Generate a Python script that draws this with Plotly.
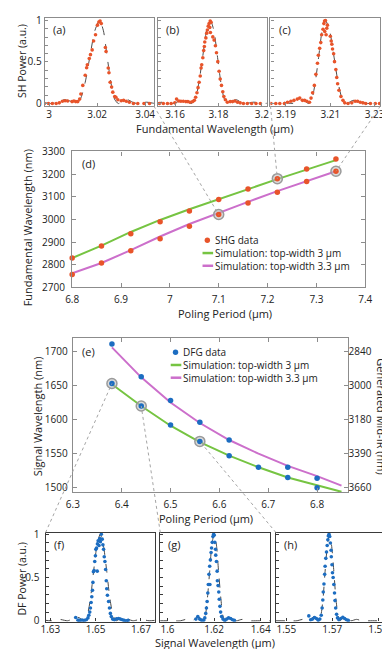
import plotly.graph_objects as go

W, H = 390, 649
FONT = "Open Sans"

shg_color = "#E8542A"
dfg_color = "#1C6DC1"
green = "#76C442"
magenta = "#CC6FCB"

# (a)-(c) SHG spectra: fundamental wavelength (um) vs SH power (a.u.)
a_wl = [2.9980, 2.9997, 3.0013, 3.0029, 3.0042, 3.0055, 3.0066, 3.0077, 3.0095, 3.0103, 3.0111, 3.0119,
        3.0127, 3.0132, 3.0140, 3.0150, 3.0156, 3.0159, 3.0167, 3.0172, 3.0179, 3.0185, 3.0193, 3.0201,
        3.0207, 3.0212, 3.0217, 3.0234, 3.0237, 3.0246, 3.0249, 3.0254, 3.0260, 3.0265, 3.0273, 3.0278,
        3.0286, 3.0300, 3.0310, 3.0321, 3.0334, 3.0351, 3.0369, 3.0395, 3.0418]
a_pw = [0, 0, 0, 0, 0.008, 0.027, 0.034, 0.031, 0.023, 0.031, 0.023, 0.023,
        0.053, 0.115, 0.218, 0.34, 0.43, 0.466, 0.542, 0.588, 0.645, 0.752, 0.828, 0.943,
        0.981, 0.992, 0.962, 0.675, 0.626, 0.427, 0.37, 0.256, 0.198, 0.137, 0.084, 0.076,
        0.046, 0.034, 0.038, 0.027, 0.015, 0, 0, 0, 0]
a_sim_wl = [2.991, 2.996, 3.001, 3.0035, 3.006, 3.0085, 3.011, 3.013, 3.015, 3.017, 3.019, 3.021,
            3.0226, 3.0241, 3.0257, 3.0272, 3.0288, 3.0308, 3.0327, 3.0347, 3.0366, 3.0405, 3.0444, 3.048]
a_sim_pw = [0, 0.016, 0, 0.017, 0.045, 0.032, 0, 0.055, 0.255, 0.573, 0.875, 1,
            0.875, 0.573, 0.255, 0.055, 0, 0.032, 0.045, 0.017, 0, 0.016, 0, 0.008]

b_wl = [3.1528, 3.1546, 3.1565, 3.1582, 3.1599, 3.1607, 3.1617, 3.1627, 3.1638, 3.1650, 3.1659, 3.1669,
        3.1681, 3.1689, 3.1695, 3.1701, 3.1706, 3.1711, 3.1716, 3.1720, 3.1723, 3.1728, 3.1732, 3.1735,
        3.1737, 3.1742, 3.1746, 3.1749, 3.1753, 3.1757, 3.1762, 3.1766, 3.1760, 3.1763, 3.1774, 3.1780,
        3.1786, 3.1791, 3.1797, 3.1803, 3.1808, 3.1814, 3.1820, 3.1825, 3.1832, 3.1841, 3.1854, 3.1865,
        3.1876, 3.1888, 3.1900, 3.1915, 3.1933, 3.1953, 3.1973, 3.1993]
b_pw = [0, 0, 0, 0, 0.008, 0.053, 0.031, 0.027, 0.027, 0.023, 0.023, 0.015,
        0.023, 0.038, 0.076, 0.130, 0.191, 0.256, 0.332, 0.427, 0.466, 0.550, 0.637, 0.687,
        0.740, 0.790, 0.847, 0.885, 0.931, 0.962, 0.992, 0.977, 0.916, 0.855, 0.802, 0.763,
        0.695, 0.611, 0.504, 0.389, 0.294, 0.218, 0.141, 0.084, 0.046, 0.015, 0.023, 0.023,
        0.031, 0.015, 0.008, 0, 0, 0, 0, 0]
b_sim_wl = [3.1499, 3.1543, 3.1587, 3.1609, 3.1631, 3.1653, 3.1675, 3.1693, 3.1710, 3.1728, 3.1745, 3.1763,
            3.1779, 3.1795, 3.1811, 3.1827, 3.1843, 3.1863, 3.1883, 3.1903, 3.1923, 3.1963, 3.2003, 3.2043]
b_sim_pw = [0, 0.016, 0, 0.017, 0.045, 0.032, 0, 0.055, 0.255, 0.573, 0.875, 1,
            0.875, 0.573, 0.255, 0.055, 0, 0.032, 0.045, 0.017, 0, 0.016, 0, 0.008]

c_wl = [3.1832, 3.1854, 3.1872, 3.1893, 3.1907, 3.1922, 3.1936, 3.1951, 3.1962, 3.1974, 3.1984, 3.1994,
        3.2006, 3.2013, 3.2020, 3.2028, 3.2035, 3.2042, 3.2046, 3.2052, 3.2057, 3.2061, 3.2067, 3.2071,
        3.2074, 3.2078, 3.2075, 3.2081, 3.2084, 3.2087, 3.2100, 3.2104, 3.2107, 3.2110, 3.2115, 3.2119,
        3.2125, 3.2129, 3.2133, 3.2139, 3.2148, 3.2157, 3.2165, 3.2180, 3.2197, 3.2212, 3.2223, 3.2235,
        3.2247, 3.2260, 3.2281, 3.2303, 3.2322]
c_pw = [0, 0, 0, 0, 0.015, 0.027, 0.038, 0.053, 0.065, 0.038, 0.038, 0.027,
        0.015, 0.065, 0.130, 0.218, 0.351, 0.485, 0.580, 0.664, 0.733, 0.828, 0.893, 0.962,
        0.992, 1.0, 0.866, 0.828, 0.905, 0.943, 0.809, 0.752, 0.714, 0.656, 0.599, 0.504,
        0.408, 0.313, 0.237, 0.160, 0.084, 0.038, 0.008, 0, 0.008, 0.027, 0.027, 0.015,
        0.008, 0, 0, 0, 0]
c_sim_wl = [3.1812, 3.185, 3.1888, 3.1926, 3.1945, 3.1964, 3.1983, 3.2002, 3.2017, 3.2032, 3.2048, 3.2063,
            3.2078, 3.2097, 3.2116, 3.2135, 3.2154, 3.2173, 3.2197, 3.2221, 3.2244, 3.2268, 3.2316, 3.2363]
c_sim_pw = [0.008, 0, 0.016, 0, 0.017, 0.045, 0.032, 0, 0.055, 0.255, 0.573, 0.875,
            1, 0.875, 0.573, 0.255, 0.055, 0, 0.032, 0.045, 0.017, 0, 0.016, 0]

# (d) SHG phase matching vs poling period
shg_period = [6.8, 6.86, 6.92, 6.98, 7.04, 7.1, 7.16, 7.22, 7.28, 7.34]
shg_w3 = [2830, 2883, 2937, 2990, 3038, 3088, 3135, 3180, 3223, 3267]
shg_w33 = [2757, 2808, 2862, 2915, 2970, 3022, 3073, 3120, 3168, 3213]
sim_shg_w3 = [2830, 2885, 2945, 2998, 3045, 3090, 3135, 3178, 3220, 3262]
sim_shg_w33 = [2763, 2808, 2865, 2925, 2980, 3030, 3078, 3125, 3170, 3213]
shg_pick_period = [7.1, 7.22, 7.34]
shg_pick_wl = [3022, 3180, 3213]

# (e) DFG phase matching vs poling period
dfg_period_w33 = [6.38, 6.44, 6.5, 6.56, 6.62, 6.74, 6.8]
dfg_w33 = [1711, 1663, 1628, 1596, 1570, 1530, 1514]
dfg_period_w3 = [6.38, 6.44, 6.5, 6.56, 6.62, 6.68, 6.74, 6.8]
dfg_w3 = [1653, 1620, 1592, 1568, 1547, 1530, 1515, 1500]
sim_dfg_period = [6.38, 6.44, 6.5, 6.56, 6.62, 6.68, 6.74, 6.8, 6.85]
sim_dfg_w3 = [1652, 1620, 1591, 1567, 1547, 1530, 1515, 1503, 1494]
sim_dfg_w33 = [1706, 1662, 1625, 1595, 1570, 1550, 1532, 1517, 1503]
dfg_pick_period = [6.38, 6.44, 6.56]
dfg_pick_wl = [1653, 1620, 1568]
signal_ticks = [1700, 1650, 1600, 1550, 1500]
midir_labels = ["2840", "3000", "3180", "3390", "3660"]

# (f)-(h) DFG spectra: signal wavelength (um) vs DF power (a.u.)
f_wl = [1.6412, 1.6422, 1.6430, 1.6440, 1.6450, 1.6459, 1.6466, 1.6470, 1.6474, 1.6477, 1.6480, 1.6483,
        1.6486, 1.6488, 1.6490, 1.6493, 1.6496, 1.6499, 1.6501, 1.6504, 1.6507, 1.6508, 1.6511, 1.6515,
        1.6518, 1.6521, 1.6525, 1.6529, 1.6532, 1.6535, 1.6538, 1.6541, 1.6544, 1.6547, 1.6549, 1.6552,
        1.6557, 1.6561, 1.6565, 1.6569, 1.6575, 1.6583, 1.6592, 1.6601, 1.6609, 1.6618, 1.6626, 1.6635, 1.6643]
f_pw = [0.037, 0.007, 0.004, 0.007, 0.004, 0.011, 0.033, 0.063, 0.1, 0.148, 0.211, 0.278,
        0.352, 0.444, 0.567, 0.581, 0.685, 0.752, 0.826, 0.841, 0.574, 0.889, 0.926, 0.870,
        0.952, 0.915, 1.0, 0.944, 0.878, 0.826, 0.741, 0.685, 0.593, 0.463, 0.370, 0.296,
        0.222, 0.148, 0.085, 0.048, 0.019, 0.011, 0.022, 0.026, 0.019, 0.011, 0.004, 0, 0.004]
f_sim_wl = [1.6268, 1.6304, 1.634, 1.6376, 1.6394, 1.6412, 1.643, 1.6448, 1.6462, 1.6477, 1.6491, 1.6506, 1.652,
            1.6534, 1.6549, 1.6563, 1.6578, 1.6592, 1.661, 1.6628, 1.6646, 1.6664, 1.67, 1.6736, 1.6772]
f_sim_pw = [0.008, 0, 0.016, 0, 0.017, 0.045, 0.032, 0, 0.055, 0.255, 0.573, 0.875, 1,
            0.875, 0.573, 0.255, 0.055, 0, 0.032, 0.045, 0.017, 0, 0.016, 0, 0.008]

g_wl = [1.6122, 1.6130, 1.6138, 1.6146, 1.6155, 1.6160, 1.6164, 1.6167, 1.6170, 1.6173, 1.6175, 1.6178,
        1.6181, 1.6182, 1.6184, 1.6187, 1.6189, 1.6192, 1.6195, 1.6198, 1.6200, 1.6203, 1.6206, 1.6207,
        1.6210, 1.6213, 1.6214, 1.6217, 1.6220, 1.6222, 1.6225, 1.6228, 1.6232, 1.6238, 1.6246, 1.6254,
        1.6262, 1.6271, 1.6279, 1.6287]
g_pw = [0.019, 0.048, 0.019, 0.007, 0.007, 0.033, 0.085, 0.148, 0.222, 0.322, 0.419, 0.537,
        0.630, 0.419, 0.704, 0.789, 0.841, 0.907, 0.974, 1.0, 0.989, 0.907, 0.826, 0.759,
        0.685, 0.574, 0.463, 0.407, 0.333, 0.248, 0.167, 0.1, 0.048, 0.019, 0.004, 0.019,
        0.033, 0.026, 0.011, 0.004]
g_sim_wl = [1.596, 1.6008, 1.6056, 1.608, 1.6104, 1.6116, 1.6128, 1.614, 1.6152, 1.6162, 1.6171, 1.6181, 1.619, 1.62,
            1.621, 1.6219, 1.6229, 1.6238, 1.6248, 1.626, 1.6272, 1.6284, 1.6296, 1.632, 1.6344, 1.6392, 1.644]
g_sim_pw = [0, 0, 0, 0.016, 0, 0.017, 0.045, 0.032, 0, 0.055, 0.255, 0.573, 0.875, 1,
            0.875, 0.573, 0.255, 0.055, 0, 0.032, 0.045, 0.017, 0, 0.016, 0, 0, 0]

h_wl = [1.5598, 1.5606, 1.5614, 1.5623, 1.5631, 1.5639, 1.5646, 1.5652, 1.5656, 1.5659, 1.5661, 1.5664,
        1.5667, 1.5669, 1.5672, 1.5675, 1.5678, 1.5681, 1.5683, 1.5686, 1.5689, 1.5692, 1.5695, 1.5696,
        1.5699, 1.5701, 1.5704, 1.5707, 1.5710, 1.5712, 1.5715, 1.5719, 1.5723, 1.5729, 1.5737, 1.5746,
        1.5754, 1.5762, 1.5770]
h_pw = [0.056, 0.011, 0.019, 0.037, 0.026, 0.007, 0.019, 0.063, 0.148, 0.241, 0.333, 0.426,
        0.537, 0.630, 0.722, 0.796, 0.870, 0.937, 0.981, 1.0, 0.974, 0.9, 0.815, 0.741,
        0.648, 0.556, 0.5, 0.419, 0.322, 0.233, 0.148, 0.074, 0.033, 0.011, 0.026, 0.041,
        0.026, 0.011, 0.004]
h_sim_wl = [1.5453, 1.55, 1.5547, 1.5571, 1.5594, 1.5606, 1.5618, 1.5629, 1.5641, 1.565, 1.566, 1.5669, 1.5679, 1.5688,
            1.5697, 1.5707, 1.5716, 1.5726, 1.5735, 1.5747, 1.5759, 1.577, 1.5782, 1.5806, 1.5829, 1.5876, 1.5923]
h_sim_pw = [0, 0, 0, 0.016, 0, 0.017, 0.045, 0.032, 0, 0.055, 0.255, 0.573, 0.875, 1,
            0.875, 0.573, 0.255, 0.055, 0, 0.032, 0.045, 0.017, 0, 0.016, 0, 0, 0]

power_ticks = [0, 0.1, 0.2, 0.3, 0.4, 0.5, 0.6, 0.7, 0.8, 0.9, 1]
power_labels = ["0", "", "", "", "", "0.5", "", "", "", "", "1"]


def xdom(l, r):
    return [l / W, r / W]


def ydom(t, b):
    return [1 - b / H, 1 - t / H]


# panel geometry in pixels (left, right), (top, bottom)
P = {
    "a": dict(s="", xpx=(31, 144), ypx=(3, 93), xr=(2.9982, 3.0436), yr=(-0.03, 1.03)),
    "b": dict(s="2", xpx=(148, 261), ypx=(3, 93), xr=(3.1520, 3.2022), yr=(-0.03, 1.03)),
    "c": dict(s="3", xpx=(265, 379), ypx=(3, 93), xr=(3.1830, 3.2326), yr=(-0.03, 1.03)),
    "d": dict(s="4", xpx=(59.3, 363.3), ypx=(139.5, 278.5), xr=(6.8, 7.4), yr=(2700, 3300)),
    "e": dict(s="5", xpx=(60, 345), ypx=(330, 488), xr=(6.3, 6.8625), yr=(1493, 1720)),
    "f": dict(s="7", xpx=(31.7, 145.7), ypx=(529, 620), xr=(1.6279, 1.6764), yr=(-0.01, 1.02)),
    "g": dict(s="8", xpx=(150.7, 264.3), ypx=(529, 620), xr=(1.5969, 1.6439), yr=(-0.01, 1.02)),
    "h": dict(s="9", xpx=(270.7, 385), ypx=(529, 620), xr=(1.5455, 1.5935), yr=(-0.01, 1.02)),
}


def to_paper(key, xv, yv):
    p = P[key]
    (x0, x1), (y0, y1) = p["xr"], p["yr"]
    (l, r), (t, b) = p["xpx"], p["ypx"]
    px = l + (xv - x0) / (x1 - x0) * (r - l)
    py = b - (yv - y0) / (y1 - y0) * (b - t)
    return px / W, 1 - py / H


fig = go.Figure()
layout = {}
tickfont = dict(family=FONT, size=10, color="#222")

spectra = [
    ("a", a_wl, a_pw, a_sim_wl, a_sim_pw, shg_color, [3, 3.02, 3.04]),
    ("b", b_wl, b_pw, b_sim_wl, b_sim_pw, shg_color, [3.16, 3.18, 3.2]),
    ("c", c_wl, c_pw, c_sim_wl, c_sim_pw, shg_color, [3.19, 3.21, 3.23]),
    ("f", f_wl, f_pw, f_sim_wl, f_sim_pw, dfg_color, [1.63, 1.65, 1.67]),
    ("g", g_wl, g_pw, g_sim_wl, g_sim_pw, dfg_color, [1.6, 1.62, 1.64]),
    ("h", h_wl, h_pw, h_sim_wl, h_sim_pw, dfg_color, [1.55, 1.57, 1.59]),
]
for key, xs, ys, sx, sy, col, xt in spectra:
    p = P[key]
    s = p["s"]
    top = key in "abc"
    frame = "#8c8c8c" if top else "#3a3a3a"
    fig.add_trace(go.Scatter(x=sx, y=sy, mode="lines", xaxis="x" + s, yaxis="y" + s,
                             line=dict(color="#4a4a4a", width=1, dash="dash", shape="spline", smoothing=0.7),
                             showlegend=False, hoverinfo="skip"))
    fig.add_trace(go.Scatter(x=xs, y=ys, mode="markers", xaxis="x" + s, yaxis="y" + s,
                             marker=dict(color=col, size=3.6), showlegend=False))
    layout["xaxis" + s] = dict(domain=xdom(*p["xpx"]), range=list(p["xr"]), anchor="y" + s,
                               tickvals=xt, ticks="inside", ticklen=3, tickcolor=frame,
                               ticklabelstandoff=-1 if top else -2,
                               showline=True, mirror=True, linecolor=frame, linewidth=1.4,
                               showgrid=False, zeroline=False, tickfont=tickfont)
    layout["yaxis" + s] = dict(domain=ydom(*p["ypx"]), range=list(p["yr"]), anchor="x" + s,
                               tickvals=power_ticks, ticktext=power_labels, ticks="inside", ticklen=3,
                               tickcolor=frame, showticklabels=key in "af",
                               ticklabelstandoff=0 if top else 3,
                               showline=True, mirror=True, linecolor=frame, linewidth=1.4,
                               showgrid=False, zeroline=False, tickfont=tickfont)

# (d)
ring = dict(color="rgba(190,190,190,0.55)", size=10, line=dict(color="#9a9a9a", width=1.5))
fig.add_trace(go.Scatter(x=shg_period, y=sim_shg_w3, mode="lines", line=dict(color=green, width=2),
                         xaxis="x4", yaxis="y4", showlegend=False))
fig.add_trace(go.Scatter(x=shg_period, y=sim_shg_w33, mode="lines", line=dict(color=magenta, width=2),
                         xaxis="x4", yaxis="y4", showlegend=False))
fig.add_trace(go.Scatter(x=shg_pick_period, y=shg_pick_wl, mode="markers", marker=ring,
                         xaxis="x4", yaxis="y4", showlegend=False, cliponaxis=False))
for ys in (shg_w3, shg_w33):
    fig.add_trace(go.Scatter(x=shg_period, y=ys, mode="markers", marker=dict(color=shg_color, size=5.5),
                             xaxis="x4", yaxis="y4", showlegend=False, cliponaxis=False))
frame_mid = "#8c8c8c"
layout["xaxis4"] = dict(domain=xdom(*P["d"]["xpx"]), range=list(P["d"]["xr"]), anchor="y4", dtick=0.1,
                        ticks="inside", ticklen=4, tickcolor=frame_mid, showline=True, mirror="ticks",
                        linecolor=frame_mid, linewidth=1.4, showgrid=False, zeroline=False,
                        tickfont=tickfont, ticklabelstandoff=2)
layout["yaxis4"] = dict(domain=ydom(*P["d"]["ypx"]), range=list(P["d"]["yr"]), anchor="x4", dtick=100,
                        ticks="inside", ticklen=4, tickcolor=frame_mid, showline=True, mirror="ticks",
                        linecolor=frame_mid, linewidth=1.4, showgrid=False, zeroline=False,
                        tickfont=tickfont, ticklabelstandoff=4)

# (e)
fig.add_trace(go.Scatter(x=sim_dfg_period, y=sim_dfg_w3, mode="lines", line=dict(color=green, width=2),
                         xaxis="x5", yaxis="y5", showlegend=False))
fig.add_trace(go.Scatter(x=sim_dfg_period, y=sim_dfg_w33, mode="lines", line=dict(color=magenta, width=2),
                         xaxis="x5", yaxis="y5", showlegend=False))
fig.add_trace(go.Scatter(x=dfg_pick_period, y=dfg_pick_wl, mode="markers", marker=ring,
                         xaxis="x5", yaxis="y5", showlegend=False, cliponaxis=False))
fig.add_trace(go.Scatter(x=dfg_period_w33, y=dfg_w33, mode="markers", marker=dict(color=dfg_color, size=5.5),
                         xaxis="x5", yaxis="y5", showlegend=False, cliponaxis=False))
fig.add_trace(go.Scatter(x=dfg_period_w3, y=dfg_w3, mode="markers", marker=dict(color=dfg_color, size=5.5),
                         xaxis="x5", yaxis="y5", showlegend=False, cliponaxis=False))
fig.add_trace(go.Scatter(x=sim_dfg_period, y=sim_dfg_w3, mode="lines", opacity=0, xaxis="x5", yaxis="y6",
                         showlegend=False, hoverinfo="skip"))
layout["xaxis5"] = dict(domain=xdom(*P["e"]["xpx"]), range=list(P["e"]["xr"]), anchor="y5", dtick=0.1,
                        ticks="inside", ticklen=4, tickcolor=frame_mid, showline=True, mirror="ticks",
                        linecolor=frame_mid, linewidth=1.4, showgrid=False, zeroline=False,
                        tickfont=tickfont, ticklabelstandoff=2)
layout["yaxis5"] = dict(domain=ydom(*P["e"]["ypx"]), range=list(P["e"]["yr"]), anchor="x5",
                        tickvals=signal_ticks, ticks="inside", ticklen=4, tickcolor=frame_mid,
                        showline=True, mirror=True, linecolor=frame_mid, linewidth=1.4,
                        showgrid=False, zeroline=False, tickfont=tickfont, ticklabelstandoff=2)
layout["yaxis6"] = dict(range=list(P["e"]["yr"]), overlaying="y5", anchor="x5", side="right",
                        tickvals=signal_ticks, ticktext=midir_labels, ticks="inside", ticklen=4,
                        tickcolor=frame_mid, showline=False, showgrid=False, zeroline=False,
                        tickfont=tickfont)

# connector lines between spectra and phase-matching points
shapes = []
links = [
    ((P["a"]["xpx"][1] / W, 1 - P["a"]["ypx"][1] / H), to_paper("d", shg_pick_period[0], shg_pick_wl[0])),
    ((P["c"]["xpx"][0] / W, 1 - P["c"]["ypx"][1] / H), to_paper("d", shg_pick_period[1], shg_pick_wl[1])),
    ((P["c"]["xpx"][1] / W, 1 - P["c"]["ypx"][1] / H), to_paper("d", shg_pick_period[2], shg_pick_wl[2])),
    ((P["f"]["xpx"][0] / W, 1 - P["f"]["ypx"][0] / H), to_paper("e", dfg_pick_period[0], dfg_pick_wl[0])),
    ((P["g"]["xpx"][0] / W, 1 - P["g"]["ypx"][0] / H), to_paper("e", dfg_pick_period[1], dfg_pick_wl[1])),
    ((P["h"]["xpx"][0] / W, 1 - P["h"]["ypx"][0] / H), to_paper("e", dfg_pick_period[2], dfg_pick_wl[2])),
]
for (x0, y0), (x1, y1) in links:
    shapes.append(dict(type="line", xref="paper", yref="paper", x0=x0, y0=y0, x1=x1, y1=y1,
                       line=dict(color="#a5a5a5", width=1, dash="dot"), layer="above"))

annotations = []


def text(t, x, y, size=11, angle=0, xanchor="center"):
    annotations.append(dict(text=t, x=x / W, y=1 - y / H, xref="paper", yref="paper", showarrow=False,
                            textangle=angle, xanchor=xanchor, yanchor="middle", borderpad=0, align="left",
                            font=dict(family=FONT, size=size, color="#222")))


# hand-drawn legends: symbols as shapes, the three labels as one text block (line pitch 13 px)
def legend(items, x_sym, x_txt, y_mid):
    pitch = 13
    for i, (kind, col, label) in enumerate(items):
        yp = 1 - (y_mid + (i - 1) * pitch) / H
        if kind == "dot":
            shapes.append(dict(type="circle", xref="paper", yref="paper",
                               x0=(x_sym - 2.8) / W, x1=(x_sym + 2.8) / W,
                               y0=yp - 2.8 / H, y1=yp + 2.8 / H, fillcolor=col, line=dict(width=0)))
        else:
            shapes.append(dict(type="line", xref="paper", yref="paper", x0=(x_sym - 5) / W, x1=(x_sym + 6) / W,
                               y0=yp, y1=yp, line=dict(color=col, width=2.5)))
    text("<br>".join(lab for _, _, lab in items), x_txt, y_mid, size=10, xanchor="left")


legend([("dot", shg_color, "SHG data"), ("line", green, "Simulation: top-width 3 μm"),
        ("line", magenta, "Simulation: top-width 3.3 μm")], 199.5, 206.5, 243.3)
legend([("dot", dfg_color, "DFG data"), ("line", green, "Simulation: top-width 3 μm"),
        ("line", magenta, "Simulation: top-width 3.3 μm")], 166.5, 173.5, 357.7)

# axis titles
text("SH Power (a.u.)", 7.2, 47, size=10.5, angle=-90)
text("Fundamental Wavelength (μm)", 206.5, 116)
text("Fundamental Wavelength (nm)", 12.5, 218, angle=-90)
text("Poling Period (μm)", 218, 305)
text("Signal Wavelength (nm)", 23, 410, angle=-90)
text("Generated Mid-IR (nm)", 380.5, 410, angle=90)
text("Poling Period (μm)", 198, 515)
text("DF Power (a.u.)", 7.2, 576, size=10.5, angle=-90)
text("Signal Wavelength (μm)", 207.5, 641.5)

# panel labels
for lab, x, y in [("(a)", 38, 15), ("(b)", 156, 15), ("(c)", 273, 15), ("(d)", 68, 151.5),
                  ("(e)", 68, 344), ("(f)", 39, 541.5), ("(g)", 158, 541.5), ("(h)", 278, 541.5)]:
    text(lab, x, y, size=11, xanchor="left")

fig.update_layout(
    width=W, height=H, autosize=False,
    margin=dict(l=0, r=0, t=0, b=0),
    paper_bgcolor="white", plot_bgcolor="white",
    font=dict(family=FONT, size=11, color="#222"),
    showlegend=False,
    shapes=shapes, annotations=annotations,
    **layout,
)

fig.write_html("out.html")
